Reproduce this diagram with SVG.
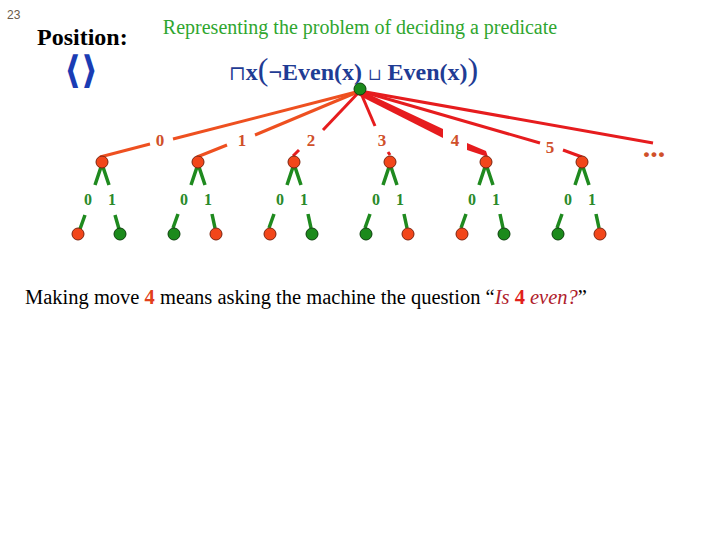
<svg xmlns="http://www.w3.org/2000/svg" width="720" height="540" viewBox="0 0 720 540">
<style>
.serif{font-family:"Liberation Serif","DejaVu Serif",serif}
.e01{stroke:#ee5020;stroke-width:3;fill:none;stroke-linecap:butt}
.er{stroke:#e61c1e;stroke-width:3;fill:none}
.wedge{fill:#e61c1e}
.g{stroke:#1f8a1f;stroke-width:3.5;fill:none}
.nr{fill:#f2461a;stroke:#7a2410;stroke-width:1}
.ng{fill:#1b8a1b;stroke:#0c3f0c;stroke-width:1}
.lab{font-family:"Liberation Serif",serif;font-weight:bold;font-size:17px;fill:#d0502a;text-anchor:middle}
.glab{font-family:"Liberation Serif",serif;font-weight:bold;font-size:16px;fill:#2a8a2a;text-anchor:middle}
</style>
<rect width="720" height="540" fill="#ffffff"/>
<text x="7" y="19" font-family="Liberation Sans, sans-serif" font-size="12" fill="#6b5a48">23</text>
<text x="37" y="45" class="serif" font-size="24" font-weight="bold" fill="#000">Position:</text>
<text x="81" y="83" font-family="DejaVu Sans, sans-serif" font-size="38" font-weight="bold" fill="#1a3cb4" text-anchor="middle">⟨⟩</text>
<text x="360" y="34" class="serif" font-size="20" fill="#2fa62f" text-anchor="middle">Representing the problem of deciding a predicate</text>
<text x="229" y="80" class="serif" font-size="24" font-weight="bold" fill="#1f3c94"><tspan font-weight="normal" font-size="20">⊓</tspan>x<tspan font-size="32" font-weight="normal">(</tspan>¬Even(x) <tspan font-weight="normal" font-size="16">⊔</tspan> Even(x)<tspan font-size="32" font-weight="normal">)</tspan></text>

<g id="connectors">
<line class="e01" x1="360" y1="91" x2="173" y2="139"/>
<line class="e01" x1="150" y1="144" x2="100" y2="157"/>
<line class="e01" x1="360" y1="91" x2="255" y2="135"/>
<line class="e01" x1="227" y1="145" x2="197" y2="157"/>
<line class="er" x1="360" y1="91" x2="323" y2="130"/>
<line class="er" x1="299" y1="150" x2="293" y2="156"/>
<line class="er" x1="360" y1="91" x2="375" y2="126"/>
<line class="er" x1="388" y1="152" x2="390" y2="155"/>
<polygon class="wedge" points="360,90 443,129 443,138 358,95"/>
<polygon class="wedge" points="467,143 486,151 488,157 467,150"/>
<line class="er" x1="360" y1="91" x2="540" y2="143"/>
<line class="er" x1="563" y1="150" x2="582" y2="157"/>
<line class="er" x1="360" y1="91" x2="653" y2="143"/>
<g class="g">
<path d="M101,167 L95,185 M103,167 L109,185 M85,215 L80,229 M115,215 L119,229"/>
<path d="M197,167 L191,185 M199,167 L205,185 M178,214 L173,228 M212,214 L215,228"/>
<path d="M293,167 L287,185 M295,167 L301,185 M274,214 L269,228 M308,214 L311,228"/>
<path d="M389,167 L383,185 M391,167 L397,185 M370,214 L365,228 M404,214 L407,228"/>
<path d="M485,167 L479,185 M487,167 L493,185 M466,214 L461,228 M500,214 L503,228"/>
<path d="M581,167 L575,185 M583,167 L589,185 M562,214 L557,228 M596,214 L599,228"/>
</g>
</g>

<g id="labels">
<text class="lab" x="160" y="146">0</text>
<text class="lab" x="242" y="146">1</text>
<text class="lab" x="311" y="146">2</text>
<text class="lab" x="382" y="146">3</text>
<text class="lab" x="455" y="146">4</text>
<text class="lab" x="550" y="153">5</text>
<text class="lab" x="654" y="157" style="font-size:30px">...</text>
<text class="glab" x="88" y="205">0</text><text class="glab" x="112" y="205">1</text>
<text class="glab" x="184" y="205">0</text><text class="glab" x="208" y="205">1</text>
<text class="glab" x="280" y="205">0</text><text class="glab" x="304" y="205">1</text>
<text class="glab" x="376" y="205">0</text><text class="glab" x="400" y="205">1</text>
<text class="glab" x="472" y="205">0</text><text class="glab" x="496" y="205">1</text>
<text class="glab" x="568" y="205">0</text><text class="glab" x="592" y="205">1</text>
</g>

<g id="root"><circle class="ng" cx="360" cy="89" r="6"/></g>
<g id="n0"><circle class="nr" cx="102" cy="162" r="6"/></g>
<g id="n1"><circle class="nr" cx="198" cy="162" r="6"/></g>
<g id="n2"><circle class="nr" cx="294" cy="162" r="6"/></g>
<g id="n3"><circle class="nr" cx="390" cy="162" r="6"/></g>
<g id="n4"><circle class="nr" cx="486" cy="162" r="6"/></g>
<g id="n5"><circle class="nr" cx="582" cy="162" r="6"/></g>
<g id="n0a"><circle class="nr" cx="78" cy="234" r="6"/></g>
<g id="n0b"><circle class="ng" cx="120" cy="234" r="6"/></g>
<g id="n1a"><circle class="ng" cx="174" cy="234" r="6"/></g>
<g id="n1b"><circle class="nr" cx="216" cy="234" r="6"/></g>
<g id="n2a"><circle class="nr" cx="270" cy="234" r="6"/></g>
<g id="n2b"><circle class="ng" cx="312" cy="234" r="6"/></g>
<g id="n3a"><circle class="ng" cx="366" cy="234" r="6"/></g>
<g id="n3b"><circle class="nr" cx="408" cy="234" r="6"/></g>
<g id="n4a"><circle class="nr" cx="462" cy="234" r="6"/></g>
<g id="n4b"><circle class="ng" cx="504" cy="234" r="6"/></g>
<g id="n5a"><circle class="ng" cx="558" cy="234" r="6"/></g>
<g id="n5b"><circle class="nr" cx="600" cy="234" r="6"/></g>

<text x="25" y="304" class="serif" font-size="20.5" fill="#000">Making move <tspan font-weight="bold" fill="#e2401a">4</tspan> means asking the machine the question “<tspan font-style="italic" fill="#b01c2c">Is <tspan font-weight="bold" font-style="normal" fill="#e2201a">4</tspan> even?</tspan>”</text>
</svg>
